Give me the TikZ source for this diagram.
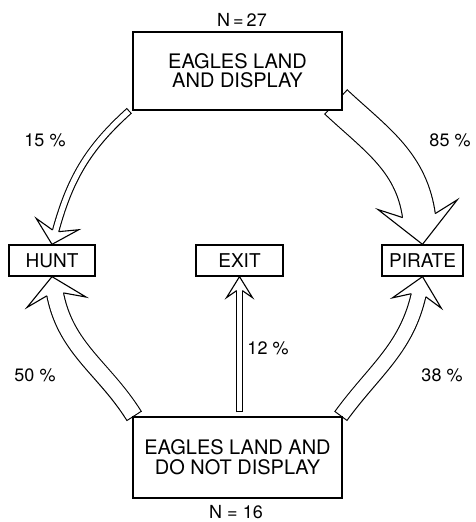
\documentclass[tikz,border=0pt]{standalone}
\usepackage{fontspec}
\setmainfont{TeX Gyre Heros}
\usetikzlibrary{backgrounds}
\tikzset{
  box/.style={draw, line width=1.3pt, fill=white, inner sep=0pt, align=center},
  bigtext/.style={font=\fontsize{20}{19}\selectfont},
  smalltext/.style={font=\fontsize{19}{19}\selectfont},
  lbl/.style={inner sep=0pt, font=\fontsize{18}{18}\selectfont},
  arrowline/.style={line width=1.1pt, line join=miter},
}
\newcommand\hollowarrow[9]{%
  \pgfmathsetmacro\haend{#8-3}%
  \pgfmathsetmacro\hainner{#5-2.2}%
  \draw[line width=#5pt, black] (#1) to[out=#3,in=#4] ([shift={(#4:\haend pt)}]#2);
  \draw[line width=\hainner pt, white, shorten <=1.1pt] (#1) to[out=#3,in=#4] ([shift={(#4:\haend pt)}]#2);
  \begin{scope}[shift={(#2)}, rotate=#4+180]
    \fill[white] (0,0) -- (-#6,#7) -- (-#8,#9) -- (-#8,-#9) -- (-#6,-#7) -- cycle;
    \draw[arrowline] (-#8,#9) -- (-#6,#7) -- (0,0) -- (-#6,-#7) -- (-#8,-#9);
  \end{scope}}
\begin{document}
\begin{tikzpicture}[x=1pt,y=1pt]
\useasboundingbox (0,0) rectangle (475,522);
% boxes
\node[box, bigtext, minimum width=209pt, minimum height=78pt] (top) at (237.5,451) {EAGLES LAND\\AND DISPLAY};
\node[box, font=\fontsize{20}{20}\selectfont, minimum width=209pt, minimum height=81pt] (bottom) at (237.5,64.5) {EAGLES LAND AND\\DO NOT DISPLAY};
\node[box, smalltext, minimum width=86pt, minimum height=31pt] (hunt) at (52,261.5) {HUNT};
\node[box, smalltext, minimum width=87pt, minimum height=31pt] (exit) at (239.5,261.5) {EXIT};
\node[box, smalltext, minimum width=81pt, minimum height=31pt] (pirate) at (422.5,261.5) {PIRATE};
% labels
\node[lbl] (n27) at (242,502) {N\,=\,27};
\node[lbl] (n16) at (236,10) {N = 16};
\node[lbl] (p15) at (45,382) {15 \%};
\node[lbl] (p85) at (450,382) {85 \%};
\node[lbl] (p50) at (35,147) {50 \%};
\node[lbl] (p38) at (442,147) {38 \%};
\node[lbl] (p12) at (268,174) {12 \%};
% arrow start points
\coordinate (s15) at ([xshift=-3pt]top.south west);
\coordinate (s85) at ([shift={(-7pt,9pt)}]top.south east);
\coordinate (s50) at ([xshift=2pt]bottom.north west);
\coordinate (s38) at ([xshift=-2pt]bottom.north east);
\coordinate (s12b) at (exit.south |- bottom.north);
\coordinate (s12) at ([yshift=4pt]s12b);
\begin{pgfonlayer}{background}
  \hollowarrow{s15}{hunt.north}{222}{75}{7.5}{21}{22}{14}{3.2}
  \hollowarrow{s85}{pirate.north}{-43}{97}{34}{40}{40}{29}{16.4}
  \hollowarrow{s50}{hunt.south}{122}{280}{18}{26}{30}{18}{8.4}
  \hollowarrow{s38}{pirate.south}{54}{258}{16}{27}{25}{19}{7.4}
  \hollowarrow{s12}{exit.south}{90}{270}{7}{21}{13}{14}{2.9}
\end{pgfonlayer}
\end{tikzpicture}
\end{document}
